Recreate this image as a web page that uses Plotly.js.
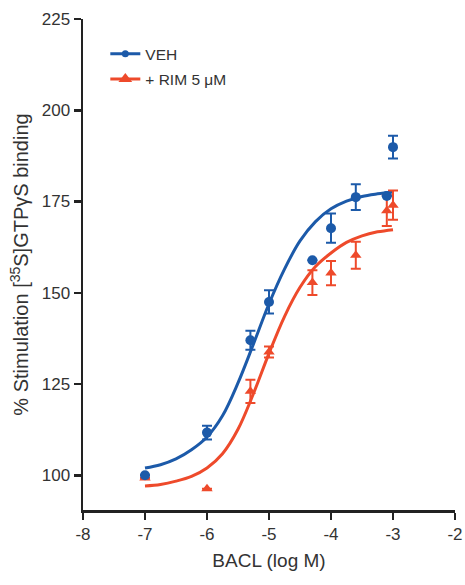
<!DOCTYPE html>
<html>
<head>
<meta charset="utf-8">
<script src="https://cdn.plot.ly/plotly-3.0.1.min.js"></script>
<style>html,body{margin:0;padding:0;background:#fff;}#chart{width:465px;height:585px;}</style>
</head>
<body>
<div id="chart"></div>
<script>
// Measured data points (log M)
const vehX = [-7, -6, -5.3, -5.0, -4.3, -4.0, -3.6, -3.1, -3.0];
const vehY = [100, 111.7, 137.0, 147.5, 158.9, 167.7, 176.2, 176.5, 189.9];
const vehErr = [0, 1.9, 2.6, 3.2, 0, 4.0, 3.5, 0, 3.1];

const rimX = [-7, -6, -5.3, -5.0, -4.3, -4.0, -3.6, -3.1, -3.0];
const rimY = [99.3, 96.3, 123.0, 133.8, 152.8, 155.4, 160.3, 172.5, 174.0];
const rimErr = [0, 0, 3.2, 1.5, 3.4, 3.3, 3.7, 4.2, 4.0];

// Fitted curves, every 0.25 log unit
const curveX = [-7, -6.75, -6.5, -6.25, -6, -5.75, -5.5, -5.25, -5, -4.75, -4.5, -4.25, -4, -3.75, -3.5, -3.25, -3];
const vehCurveY = [102.0, 102.9, 104.5, 107.0, 110.5, 116.3, 125.3, 136.0, 147.0, 156.5, 164.2, 169.5, 173.0, 175.1, 176.4, 177.1, 177.6];
const rimCurveY = [97.1, 97.5, 98.4, 99.7, 102.0, 105.9, 112.6, 122.4, 133.4, 143.5, 151.5, 157.2, 160.9, 163.8, 165.6, 166.7, 167.3];

const xTicks = [-8, -7, -6, -5, -4, -3, -2];
const yTicks = [100, 125, 150, 175, 200, 225];
const names = ['VEH', '+ RIM 5 μM'];

const BLUE = '#1c5aa9';
const RED = '#ee4a2b';

const traces = [
  {x: curveX, y: vehCurveY, mode: 'lines', line: {color: BLUE, width: 3, shape: 'spline', smoothing: 1}, showlegend: false, hoverinfo: 'skip'},
  {x: curveX, y: rimCurveY, mode: 'lines', line: {color: RED, width: 3, shape: 'spline', smoothing: 1}, showlegend: false, hoverinfo: 'skip'},
  {x: rimX, y: rimY, mode: 'markers', marker: {symbol: 'triangle-up', size: 10, color: RED},
   error_y: {type: 'data', array: rimErr, visible: true, color: RED, thickness: 2, width: 5}, showlegend: false},
  {x: vehX, y: vehY, mode: 'markers', marker: {symbol: 'circle', size: 10, color: BLUE},
   error_y: {type: 'data', array: vehErr, visible: true, color: BLUE, thickness: 2, width: 5}, showlegend: false},
  {x: [null], y: [null], mode: 'lines+markers', name: names[0], legendgroup: 'a', line: {color: BLUE, width: 3}, marker: {symbol: 'circle', size: 7, color: BLUE}},
  {x: [null], y: [null], mode: 'lines+markers', name: names[1], legendgroup: 'b', line: {color: RED, width: 3}, marker: {symbol: 'triangle-up', size: 12, color: RED}}
];

const layout = {
  width: 465, height: 585,
  margin: {l: 83, r: 10, t: 19, b: 75},
  paper_bgcolor: '#fff', plot_bgcolor: '#fff',
  font: {family: 'Liberation Sans, Arial, sans-serif', color: '#333', size: 17},
  showlegend: true,
  legend: {x: 0.06, y: 0.963, xanchor: 'left', yanchor: 'top', bgcolor: 'rgba(0,0,0,0)',
           font: {size: 15.5, color: '#333'}, traceorder: 'grouped', tracegroupgap: 2, itemwidth: 30},
  xaxis: {
    range: [-8, -2], tickvals: xTicks, ticktext: xTicks.map(String),
    showline: true, linecolor: '#222', linewidth: 2.5, mirror: false,
    ticks: 'outside', ticklen: 7, tickwidth: 2.5, tickcolor: '#222',
    showgrid: false, zeroline: false, automargin: false,
    tickfont: {size: 17, color: '#333'},
    title: {text: 'BACL (log M)', font: {size: 19, color: '#333'}, standoff: 11}
  },
  yaxis: {
    range: [90.5, 225], tickvals: yTicks, ticktext: yTicks.map(String),
    showline: true, linecolor: '#222', linewidth: 2.5,
    ticks: 'outside', ticklen: 7, tickwidth: 2.5, tickcolor: '#222',
    showgrid: false, zeroline: false, automargin: false,
    tickfont: {size: 17, color: '#333'},
    title: {text: '% Stimulation [<sup>35</sup>S]GTPγS binding', font: {size: 20, color: '#333'}, standoff: 8}
  }
};

Plotly.newPlot('chart', traces, layout, {staticPlot: true, displayModeBar: false});
</script>
</body>
</html>
